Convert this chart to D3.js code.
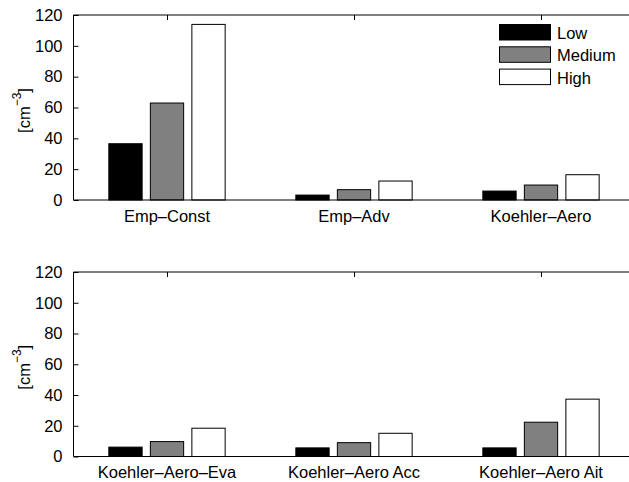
<!DOCTYPE html>
<html>
<head>
<meta charset="utf-8">
<script src="https://cdn.jsdelivr.net/npm/d3@7"></script>
<style>
  html, body { margin: 0; padding: 0; background: #fff; }
  svg { display: block; }
  text { font-family: "Liberation Sans", Arial, Helvetica, sans-serif; fill: #000; }
</style>
</head>
<body>
<svg id="chart" width="629" height="482"></svg>
<script>
// Number concentrations [cm^-3] for each scheme, per level
const levels = ["Low", "Medium", "High"];
const levelFill = ["#000000", "#808080", "#ffffff"];

const topCategories = ["Emp\u2013Const", "Emp\u2013Adv", "Koehler\u2013Aero"];
const topLow = [36.5, 3.2, 5.8];
const topMedium = [62.9, 6.7, 9.7];
const topHigh = [113.9, 12.3, 16.4];

const bottomCategories = ["Koehler\u2013Aero\u2013Eva", "Koehler\u2013Aero Acc", "Koehler\u2013Aero Ait"];
const bottomLow = [6.1, 5.6, 5.6];
const bottomMedium = [9.7, 9.0, 22.3];
const bottomHigh = [18.4, 15.1, 37.3];

const yTicks = [0, 20, 40, 60, 80, 100, 120];

const svg = d3.select("#chart");
const fontSize = 16.5;

// x in category units: categories sit at 1, 2, 3
const x = d3.scaleLinear().domain([0.5, 3.5]).range([73.5, 634.5]);
const barOffset = 0.222;
const barWidth = 0.178;

function drawPanel(top, bottom, categories, series, withLegend) {
  const y = d3.scaleLinear().domain([0, 120]).range([bottom, top]);
  const g = svg.append("g");

  // bars
  series.forEach((vals, si) => {
    g.selectAll(null)
      .data(vals)
      .enter()
      .append("rect")
      .attr("x", (d, i) => x(i + 1 + (si - 1) * barOffset - barWidth / 2))
      .attr("width", x(barWidth) - x(0))
      .attr("y", d => y(d))
      .attr("height", d => y(0) - y(d))
      .attr("fill", levelFill[si])
      .attr("stroke", "#000")
      .attr("stroke-width", 1);
  });

  // axis frame: left, top, bottom
  const x0 = x(0.5);
  g.append("line").attr("x1", x0).attr("x2", 629).attr("y1", top).attr("y2", top)
    .attr("stroke", "#000").attr("stroke-width", 1);
  g.append("line").attr("x1", x0).attr("x2", 629).attr("y1", bottom).attr("y2", bottom)
    .attr("stroke", "#000").attr("stroke-width", 1);
  g.append("line").attr("x1", x0).attr("x2", x0).attr("y1", top).attr("y2", bottom)
    .attr("stroke", "#000").attr("stroke-width", 1);

  // y ticks (inward) and labels
  const yAxis = d3.axisLeft(y).tickValues(yTicks).tickSizeInner(-5).tickSizeOuter(0).tickPadding(11);
  const ya = g.append("g").attr("transform", `translate(${x0},0)`).call(yAxis);
  ya.select(".domain").remove();
  ya.selectAll("text").attr("font-size", fontSize)
    .attr("font-family", "Liberation Sans, Arial, sans-serif").attr("fill", "#000");
  ya.selectAll("line").attr("stroke", "#000");

  // x ticks at the top edge (inward)
  const xTop = d3.axisTop(x).tickValues([1, 2, 3]).tickSizeInner(-5).tickSizeOuter(0).tickFormat("");
  const xt = g.append("g").attr("transform", `translate(0,${top})`).call(xTop);
  xt.select(".domain").remove();
  xt.selectAll("line").attr("stroke", "#000");

  // category labels
  g.selectAll(null)
    .data(categories)
    .enter()
    .append("text")
    .attr("x", (d, i) => x(i + 1))
    .attr("y", bottom + 21.5)
    .attr("text-anchor", "middle")
    .attr("font-size", fontSize)
    .text(d => d);

  // y axis title [cm^-3]
  const t = g.append("text")
    .attr("transform", `translate(29.5,${(top + bottom) / 2 + 3}) rotate(-90)`)
    .attr("text-anchor", "middle")
    .attr("font-size", fontSize);
  t.append("tspan").text("[cm");
  t.append("tspan").attr("dy", -9).attr("font-size", 12).text("\u22123");
  t.append("tspan").attr("dy", 9).text("]");

  if (withLegend) {
    const lg = g.append("g");
    levels.forEach((name, i) => {
      const ry = 24.5 + i * 22.3;
      lg.append("rect")
        .attr("x", 499.5).attr("y", ry)
        .attr("width", 51).attr("height", 15.5)
        .attr("fill", levelFill[i]).attr("stroke", "#000").attr("stroke-width", 1);
      lg.append("text")
        .attr("x", 557).attr("y", ry + 14.5)
        .attr("font-size", fontSize)
        .text(name);
    });
  }
}

drawPanel(15, 200, topCategories, [topLow, topMedium, topHigh], true);
drawPanel(272, 456.5, bottomCategories, [bottomLow, bottomMedium, bottomHigh], false);
</script>
</body>
</html>
